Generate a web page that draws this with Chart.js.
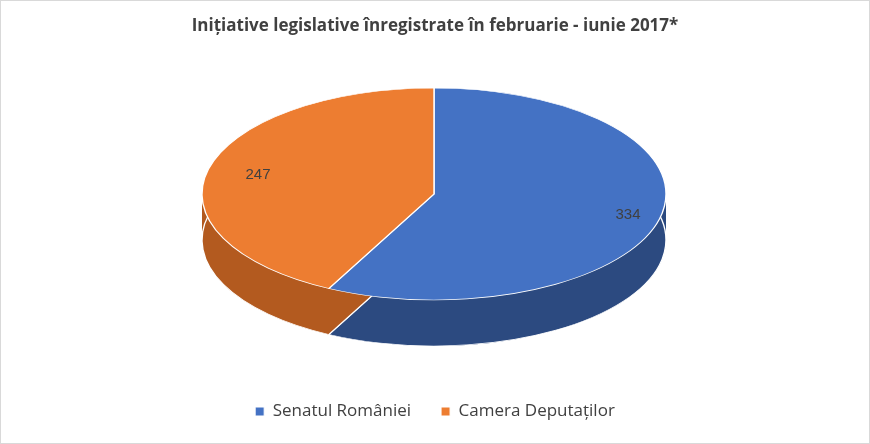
<!DOCTYPE html>
<html>
<head>
<meta charset="utf-8">
<script src="https://cdn.jsdelivr.net/npm/chart.js@4/dist/chart.umd.min.js"></script>
<style>
  html, body { margin: 0; padding: 0; background: #fff; }
  #wrap { width: 870px; height: 444px; }
</style>
</head>
<body>
<div id="wrap"><canvas id="pie"></canvas></div>
<script>
// chart data
const categories = ['Senatul României', 'Camera Deputaților'];
const values = [334, 247];
const topColors = ['#4472C4', '#ED7D31'];
const sideColors = ['#2C4A80', '#B35A1F'];

// target ellipse on screen
const CX = 434, CY = 194, RX = 232, RY = 106, DEPTH = 46;

// draw the pie as a tilted disc with some thickness
const pie3d = {
    id: 'pie3d',
    beforeDatasetsDraw(chart) {
        const ctx = chart.ctx;
        const arcs = chart.getDatasetMeta(0).data;
        const r = arcs[0].outerRadius;
        const cx = arcs[0].x, cy = arcs[0].y;
        const sx = RX / r, sy = RY / r;
        const drawAt = (dy, colors, border) => {
            ctx.save();
            ctx.translate(CX, CY + dy);
            ctx.scale(sx, sy);
            ctx.translate(-cx, -cy);
            arcs.forEach((a, i) => {
                a.options.backgroundColor = colors[i];
                a.options.borderColor = border;
                a.draw(ctx);
            });
            ctx.restore();
        };
        for (let d = DEPTH; d > 0; d--) drawAt(d, sideColors, 'rgba(0,0,0,0)');
        drawAt(DEPTH, sideColors, '#ffffff');
        drawAt(0, topColors, '#ffffff');

        // value labels
        ctx.save();
        ctx.font = '15px "Liberation Sans", Arial, sans-serif';
        ctx.fillStyle = '#404040';
        ctx.textAlign = 'center';
        ctx.textBaseline = 'middle';
        arcs.forEach((a, i) => {
            const mid = (a.startAngle + a.endAngle) / 2;
            const k = i === 0 ? 0.86 : 0.78;
            const px = CX + Math.cos(mid) * RX * k;
            const py = CY + Math.sin(mid) * RY * k;
            ctx.fillText(values[i], px, py);
        });
        ctx.restore();

        // thin frame like the source image
        ctx.save();
        ctx.strokeStyle = '#d9d9d9';
        ctx.lineWidth = 1;
        ctx.strokeRect(0.5, 0.5, chart.width - 1, chart.height - 1);
        ctx.restore();
        return false;
    }
};

new Chart(document.getElementById('pie'), {
    type: 'pie',
    data: {
        labels: categories,
        datasets: [{
            data: values,
            backgroundColor: topColors,
            borderColor: '#ffffff',
            borderWidth: 1
        }]
    },
    options: {
        responsive: true,
        maintainAspectRatio: false,
        animation: false,
        events: [],
        plugins: {
            title: {
                display: true,
                text: 'Inițiative legislative înregistrate în februarie - iunie 2017*',
                color: '#404040',
                font: { size: 17, weight: 'bold', family: '"Open Sans", "Liberation Sans", sans-serif' },
                padding: { top: 16, bottom: 10 }
            },
            legend: {
                position: 'bottom',
                labels: {
                    color: '#404040',
                    font: { size: 17, family: '"Open Sans", "Liberation Sans", sans-serif' },
                    boxWidth: 9,
                    boxHeight: 9,
                    padding: 30
                }
            },
            tooltip: { enabled: false }
        },
        layout: { padding: { bottom: 14 } }
    },
    plugins: [pie3d]
});
</script>
</body>
</html>
